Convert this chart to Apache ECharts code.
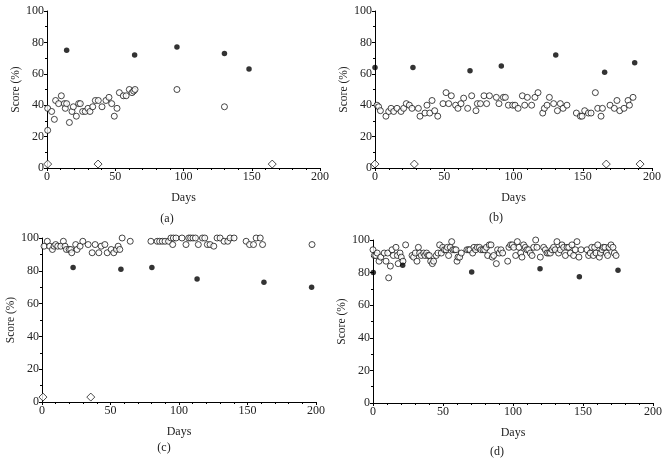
<!DOCTYPE html>
<html>
<head>
<meta charset="utf-8">
<script src="https://cdn.jsdelivr.net/npm/echarts@6/dist/echarts.min.js"></script>
<style>html,body{margin:0;padding:0;background:#fff}#c{width:668px;height:462px}</style>
</head>
<body>
<div id="c"></div>
<script>
// ---------- DATA ----------
const xTicks = [0, 50, 100, 150, 200];
const yTicks = [0, 20, 40, 60, 80, 100];
const panelLabels = ['(a)', '(b)', '(c)', '(d)'];
const xName = 'Days';
const yName = 'Score (%)';

const aOpen = [[0.5,38],[0.5,24],[3.4,36],[5.4,31],[6.3,43],[8.5,41],[10.5,46],[12.7,41],[13.4,38],[14.4,41],[16.4,29],[18.3,36],[19.3,39],[21.5,33],[23.2,41],[24.4,41],[26.1,36],[28,36],[30,38],[31.5,36],[33.5,39],[35.4,43],[37.6,43],[40.3,39],[43.2,43],[45.4,45],[47.4,41],[49.3,33],[51.3,38],[53,48],[55.9,46],[58,46],[60.3,50],[62.3,48],[63.5,49],[64.5,50],[95.2,50],[130,39]];
const aFilled = [[14.4,75],[64.2,72],[95.2,77],[130,73],[148,63]];
const aDiamond = [[0.5,2.5],[37.4,2.5],[165,2.5]];

const bOpen = [[1.4,40],[2.6,39],[3.9,36.5],[7.9,33],[9.9,36],[11.6,38],[13.5,36],[15.9,38],[18.8,36],[20.7,38],[22.6,41],[24.8,40],[26.7,38],[31.3,38],[32.5,33],[36.1,35],[37.5,40],[39.5,35],[41.2,43],[43.1,36.5],[45.3,33],[49.1,41],[51.3,48],[53.2,41],[55.1,46],[58.2,40],[59.9,38],[62.1,41],[64,44.5],[66.9,38],[69.8,46],[72.9,36.5],[73.9,41],[76.1,41],[78.7,46],[80.6,41],[82.6,46],[87.6,45],[89.5,41],[92.7,45],[94.1,45],[96.3,40],[99.4,40],[101.1,40],[103.3,38],[106.4,46],[108.1,40],[110,45],[113.1,40],[115.5,45],[117.7,48],[121.1,35],[122.3,38],[124.2,40],[125.9,45],[129,41],[131.7,36.5],[133.8,41],[135.8,38],[138.6,40],[145.4,35],[148.3,33],[149.5,33],[151.4,36.5],[154.1,35],[156,35],[159.1,48],[160.8,38],[163.2,33],[164.2,38],[169.7,40],[172.8,38],[174.7,43],[176.7,36.5],[179.8,38],[182.7,43],[183.7,40],[186.3,45]];
const bFilled = [[0,64],[27.4,64],[68.6,62],[91.2,65],[130.5,72],[165.8,61],[187.5,67]];
const bDiamond = [[0,2.5],[28.4,2.5],[167,2.5],[191.4,2.5]];

const cOpen = [[1.5,95],[3.9,98],[5.6,95],[7.6,93],[8.8,95],[10,96],[11.5,95],[13.7,95],[15.6,98],[16.8,95],[17.8,93],[19.8,93],[21,93],[21.7,91],[24.6,96],[25.6,93],[27.8,95],[29.8,98],[33.7,96],[36.6,91],[38.8,96],[41.5,91],[43.2,95],[45.9,96],[47.6,91],[50.5,93],[52.4,91],[54.4,93],[55.6,95],[56.8,93],[58.5,100],[64.4,98],[79.5,98],[84.1,98],[85.9,98],[87.8,98],[89.8,98],[92.4,98],[94.1,100],[95.4,96],[95.9,100],[97.8,100],[102.2,100],[105.1,96],[107.1,100],[108.5,100],[110.2,100],[112,100],[114.1,96],[117.1,100],[118.8,100],[120.7,96],[122.7,96],[125.4,95],[127.8,100],[130,100],[132.9,98],[135.6,98],[137.3,100],[140.2,100],[149,98],[151.5,96],[154.4,96],[156.3,100],[159.3,100],[161,96],[197.1,96]];
const cFilled = [[22.7,82],[57.6,81],[80.2,82],[113.2,75],[162,73],[196.8,70]];
const cDiamond = [[0.7,3],[35.6,3]];

const dOpen = [[0,94],[1,90.5],[2,90.5],[3,92],[4.3,87],[5.5,89.5],[8,92],[9.3,87],[10.5,92],[11.2,76.8],[12.4,84],[13.6,94],[14.5,90.5],[16.4,95.5],[17.4,90.5],[18,85.5],[19.3,92],[20.2,89.5],[21.4,87],[23.3,97],[27.9,90.5],[29,89.5],[30.2,92],[31.4,87],[32.4,95.5],[33.3,92],[34.5,90.5],[36.2,92],[37.1,90.5],[38.3,92],[39.3,90.5],[40.2,90.5],[41.2,87],[42.4,85.5],[43.3,87],[45.2,90.5],[46.4,92],[47.6,97],[48.8,92],[49.8,95.5],[51,94],[52.1,94],[53.1,95.5],[54,90.5],[55.2,95.5],[56.2,99],[57.1,94],[58.3,94],[59.3,94],[60,87],[60.7,89.5],[61.9,89.5],[63.1,92],[67.1,94],[68.3,94],[69.3,94],[71.2,92],[72.1,95.5],[73.3,94],[74.5,95.5],[76,95.5],[77.1,94],[78.6,94],[79.8,94],[81,95.5],[81.9,90.5],[83.1,97],[84.3,97],[85.2,89.5],[86.2,90.5],[88.1,85.5],[89,94],[90.2,92],[91.4,94],[92.6,92],[96.2,87],[97.1,95.5],[98.3,97],[99.5,97],[100.5,95.5],[101.9,90.5],[103.1,99],[104.3,95.5],[105.5,92],[106.4,89.5],[107.6,97],[108.8,95.5],[110,94],[111.2,94],[112.4,92],[113.6,90.5],[114.8,95.5],[116.2,100],[117.1,95.5],[119.5,89.5],[121.9,95.5],[123.1,94],[124.3,92],[125.5,92],[126.7,92],[127.9,94],[129,95.5],[130.2,94],[131.4,99],[132.6,92],[133.8,94],[135,97],[136.2,95.5],[137.4,90.5],[138.6,95.5],[139.8,95.5],[141,92],[142.1,97],[143.3,90.5],[144.5,94],[145.7,99],[147.1,89.5],[148.6,94],[152.9,94],[154,90.5],[155.2,92],[156.2,95.5],[157.4,90.5],[158.3,95.5],[159.3,92],[160.5,97],[161.7,89.5],[162.4,92],[163.6,94],[164.5,95.5],[165.7,95.5],[166.7,92],[167.6,90.5],[168.6,95.5],[170,97],[171.4,95.5],[172.4,92],[173.6,90.5]];
const dFilled = [[0.2,80],[21.2,84.5],[70.5,80.4],[119.3,82.4],[147.4,77.5],[175,81.4]];
const dDiamond = [];

// ---------- LAYOUT ----------
const FONT = 'Liberation Serif';
const grids = [
  {left: 47, top: 11, width: 273, height: 157},
  {left: 375, top: 11, width: 277, height: 157},
  {left: 42, top: 238, width: 274, height: 164},
  {left: 373, top: 240, width: 280, height: 163}
];
const labelPos = [[167, 213], [496, 212], [164, 442], [497, 446]];
const panels = [
  [aOpen, aFilled, aDiamond],
  [bOpen, bFilled, bDiamond],
  [cOpen, cFilled, cDiamond],
  [dOpen, dFilled, dDiamond]
];

const axisLine = {show: true, lineStyle: {color: '#000', width: 1}};
const xAxis = [], yAxis = [], series = [], graphic = [];
grids.forEach((g, i) => {
  xAxis.push({
    gridIndex: i, type: 'value', min: xTicks[0], max: xTicks[xTicks.length - 1], interval: 50,
    name: xName, nameLocation: 'middle', nameGap: 24,
    nameTextStyle: {fontFamily: FONT, fontSize: 12, color: '#222'},
    axisLine: axisLine,
    axisTick: {show: true, length: 3, lineStyle: {color: '#000'}},
    minorTick: {show: true, splitNumber: 5, length: 2, lineStyle: {color: '#000'}},
    splitLine: {show: false},
    axisLabel: {fontFamily: FONT, fontSize: 12, color: '#222', margin: 3}
  });
  yAxis.push({
    gridIndex: i, type: 'value', min: yTicks[0], max: yTicks[yTicks.length - 1], interval: 20,
    name: yName, nameLocation: 'middle', nameGap: 25,
    nameTextStyle: {fontFamily: FONT, fontSize: 11.5, color: '#222'},
    axisLine: axisLine,
    axisTick: {show: true, length: 3, lineStyle: {color: '#000'}},
    minorTick: {show: true, splitNumber: 2, length: 2, lineStyle: {color: '#000'}},
    splitLine: {show: false},
    axisLabel: {fontFamily: FONT, fontSize: 12, color: '#222', margin: 3}
  });
  const [op, fi, di] = panels[i];
  series.push({
    type: 'scatter', xAxisIndex: i, yAxisIndex: i, data: op, symbol: 'circle', symbolSize: 6,
    itemStyle: {color: '#fff', borderColor: '#000', borderWidth: 0.9}, z: 3, silent: true
  });
  series.push({
    type: 'scatter', xAxisIndex: i, yAxisIndex: i, data: fi, symbol: 'circle', symbolSize: 5.5,
    itemStyle: {color: '#000'}, z: 4, silent: true
  });
  series.push({
    type: 'scatter', xAxisIndex: i, yAxisIndex: i, data: di, symbol: 'diamond', symbolSize: [8, 8],
    itemStyle: {color: '#fff', borderColor: '#000', borderWidth: 0.9}, z: 4, silent: true
  });
  graphic.push({
    type: 'text', x: labelPos[i][0], y: labelPos[i][1],
    style: {text: panelLabels[i], fontFamily: FONT, fontSize: 12, fill: '#222', textAlign: 'center'}
  });
});

const chart = echarts.init(document.getElementById('c'), null, {renderer: 'canvas'});
chart.setOption({
  animation: false,
  backgroundColor: '#fff',
  grid: grids.map(g => Object.assign({containLabel: false}, g)),
  xAxis, yAxis, series, graphic
});
</script>
</body>
</html>
